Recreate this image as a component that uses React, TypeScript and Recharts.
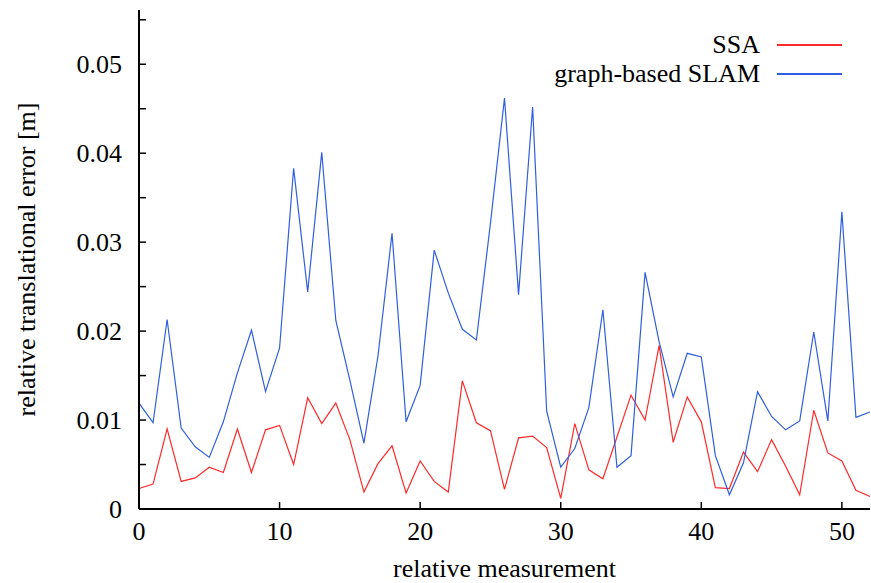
import { LineChart, Line, XAxis, YAxis, Legend } from 'recharts'

const FONT = '"Liberation Serif", "Times New Roman", serif'

const measurement = [
  0, 1, 2, 3, 4, 5, 6, 7, 8, 9, 10, 11, 12, 13, 14, 15, 16, 17, 18, 19, 20, 21, 22, 23, 24, 25, 26,
  27, 28, 29, 30, 31, 32, 33, 34, 35, 36, 37, 38, 39, 40, 41, 42, 43, 44, 45, 46, 47, 48, 49, 50, 51,
  52,
]

const ssaError = [
  0.0023, 0.0028, 0.009, 0.0031, 0.0035, 0.0047, 0.0041, 0.009, 0.0041, 0.0089,
  0.0094, 0.005, 0.0125, 0.0096, 0.0119, 0.0078, 0.0019, 0.0051, 0.0071, 0.0018,
  0.0054, 0.0031, 0.0019, 0.0144, 0.0097, 0.0088, 0.0022, 0.008, 0.0082, 0.0069,
  0.0012, 0.0096, 0.0044, 0.0034, 0.0081, 0.0128, 0.01, 0.0184, 0.0075, 0.0126,
  0.0098, 0.0024, 0.0023, 0.0064, 0.0042, 0.0078, 0.0048, 0.0016, 0.0111, 0.0063,
  0.0054, 0.0021, 0.0014,
]

const slamError = [
  0.0119, 0.0097, 0.0213, 0.0091, 0.007, 0.0058, 0.0098, 0.0153, 0.0201, 0.0132,
  0.0181, 0.0383, 0.0244, 0.0401, 0.0212, 0.0145, 0.0074, 0.0172, 0.031, 0.0098,
  0.0139, 0.0291, 0.0243, 0.0202, 0.019, 0.0321, 0.0462, 0.0241, 0.0452, 0.011,
  0.0047, 0.0068, 0.0114, 0.0224, 0.0047, 0.006, 0.0266, 0.0188, 0.0126, 0.0175,
  0.0171, 0.006, 0.0016, 0.0052, 0.0132, 0.0104, 0.0089, 0.0099, 0.0199, 0.0099,
  0.0334, 0.0103, 0.0109,
]

const xTicks = [0, 10, 20, 30, 40, 50]
const yTicks = [0, 0.005, 0.01, 0.015, 0.02, 0.025, 0.03, 0.035, 0.04, 0.045, 0.05, 0.055]
const yLabels = ['0', '', '0.01', '', '0.02', '', '0.03', '', '0.04', '', '0.05', '']

const SSA_COLOR = '#ff2a2a'
const SLAM_COLOR = '#2f5fe0'
const legendItems = [
  { name: 'SSA', color: SSA_COLOR },
  { name: 'graph-based SLAM', color: SLAM_COLOR },
]

const data = measurement.map((m, i) => ({
  m,
  ssa: ssaError[i],
  slam: slamError[i],
}))

const TICK = 7

function BottomTick({ x, y, payload }: any) {
  return (
    <g>
      <line x1={x} x2={x} y1={y} y2={y - TICK} stroke="#000" strokeWidth={1.5} />
      <text x={x} y={y + 31} textAnchor="middle" fontSize={26} fontFamily={FONT} fill="#000">
        {payload.value}
      </text>
    </g>
  )
}

function TopTick({ x, y }: any) {
  return <line x1={x} x2={x} y1={y} y2={y + TICK} stroke="#000" strokeWidth={1.5} />
}

function LeftTick({ x, y, index }: any) {
  return (
    <g>
      <line x1={x} x2={x + TICK} y1={y} y2={y} stroke="#000" strokeWidth={1.5} />
      <text x={x - 17} y={y + 9} textAnchor="end" fontSize={26} fontFamily={FONT} fill="#000">
        {yLabels[index]}
      </text>
    </g>
  )
}

function RightTick({ x, y }: any) {
  return <line x1={x} x2={x - TICK} y1={y} y2={y} stroke="#000" strokeWidth={1.5} />
}

function LegendBox() {
  return (
    <div style={{ fontFamily: FONT, fontSize: 26, color: '#000' }}>
      {legendItems.map((item) => (
        <div
          key={item.name}
          style={{ display: 'flex', alignItems: 'center', justifyContent: 'flex-end', height: 28.5 }}
        >
          <span style={{ lineHeight: '28px', whiteSpace: 'nowrap' }}>{item.name}</span>
          <span
            style={{
              display: 'inline-block',
              width: 65,
              height: 2,
              background: item.color,
              marginLeft: 17,
            }}
          />
        </div>
      ))}
    </div>
  )
}

export default function App() {
  return (
    <div style={{ position: 'absolute', left: 0, top: 0, width: 871, height: 583, background: '#fff' }}>
      <LineChart width={871} height={583} data={data} margin={{ top: 10, right: 1, bottom: 0, left: 0 }}>
        <XAxis
          dataKey="m"
          type="number"
          domain={[0, 52]}
          ticks={xTicks}
          height={74}
          tickSize={0}
          tickMargin={0}
          tickLine={false}
          axisLine={{ stroke: '#000', strokeWidth: 2 }}
          tick={<BottomTick />}
          label={{
            value: 'relative measurement',
            position: 'insideBottom',
            offset: 6,
            style: { fontFamily: FONT, fontSize: 26, fill: '#000' },
          }}
        />
        <XAxis
          xAxisId="top"
          orientation="top"
          dataKey="m"
          type="number"
          domain={[0, 52]}
          ticks={xTicks}
          height={0}
          tickSize={0}
          tickMargin={0}
          tickLine={false}
          axisLine={{ stroke: '#000', strokeWidth: 2 }}
          tick={<TopTick />}
        />
        <YAxis
          type="number"
          domain={[0, 0.0561]}
          ticks={yTicks}
          width={139}
          tickSize={0}
          tickMargin={0}
          tickLine={false}
          axisLine={{ stroke: '#000', strokeWidth: 2 }}
          tick={<LeftTick />}
          label={{
            value: 'relative translational error [m]',
            angle: -90,
            position: 'insideLeft',
            offset: 26,
            style: { textAnchor: 'middle', fontFamily: FONT, fontSize: 26, fill: '#000' },
          }}
        />
        <YAxis
          yAxisId="right"
          orientation="right"
          type="number"
          domain={[0, 0.0561]}
          ticks={yTicks}
          width={0}
          tickSize={0}
          tickMargin={0}
          tickLine={false}
          axisLine={{ stroke: '#000', strokeWidth: 2 }}
          tick={<RightTick />}
        />
        <Legend
          layout="horizontal"
          verticalAlign="middle"
          align="center"
          content={<LegendBox />}
          wrapperStyle={{ top: 31, right: 29, left: 'auto', bottom: 'auto', width: 'auto' }}
        />
        <Line
          type="linear"
          dataKey="ssa"
          name="SSA"
          stroke={SSA_COLOR}
          strokeWidth={1.2}
          dot={false}
          isAnimationActive={false}
        />
        <Line
          type="linear"
          dataKey="slam"
          name="graph-based SLAM"
          stroke={SLAM_COLOR}
          strokeWidth={1.2}
          dot={false}
          isAnimationActive={false}
        />
      </LineChart>
    </div>
  )
}
